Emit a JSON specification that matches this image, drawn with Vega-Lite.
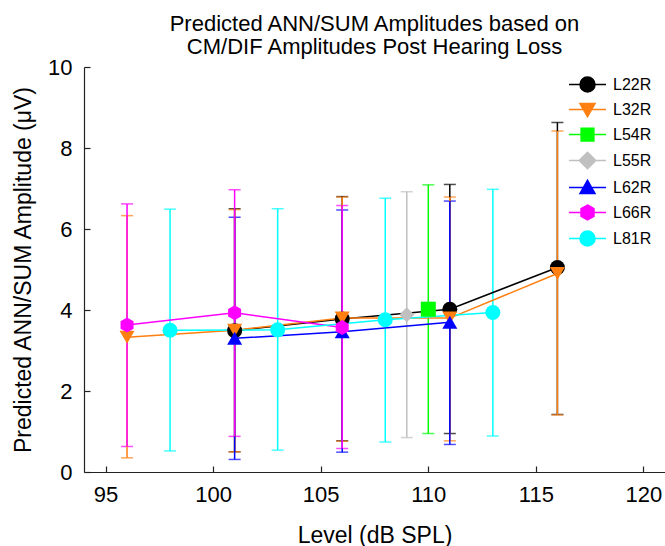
{
  "$schema": "https://vega.github.io/schema/vega-lite/v6.json",
  "width": 581,
  "height": 405,
  "autosize": "none",
  "padding": {"left": 84, "top": 67, "right": 0, "bottom": 74},
  "title": {
    "text": ["Predicted ANN/SUM Amplitudes based on", "CM/DIF Amplitudes Post Hearing Loss"],
    "font": "Liberation Sans",
    "fontSize": 22,
    "fontWeight": "normal",
    "color": "#000000",
    "lineHeight": 23.5,
    "offset": -3,
    "anchor": "middle"
  },
  "config": {
    "view": {"stroke": null},
    "font": "Liberation Sans",
    "axis": {
      "domainColor": "#222222",
      "domainWidth": 1.2,
      "tickColor": "#222222",
      "tickWidth": 1.2,
      "tickSize": -6,
      "grid": false,
      "labelFont": "Liberation Sans",
      "labelFontSize": 22,
      "labelColor": "#000000",
      "titleFont": "Liberation Sans",
      "titleFontSize": 23,
      "titleFontWeight": "normal",
      "titleColor": "#000000"
    },
    "legend": {
      "labelFont": "Liberation Sans",
      "labelFontSize": 16,
      "labelColor": "#000000",
      "symbolStrokeWidth": 1.5
    }
  },
  "data": {
    "values": [
      {"series": "L22R", "level": 101, "amp": 3.49, "lo": 0.50, "hi": 6.50},
      {"series": "L22R", "level": 106, "amp": 3.78, "lo": 0.77, "hi": 6.80},
      {"series": "L22R", "level": 111, "amp": 4.02, "lo": 0.95, "hi": 7.10},
      {"series": "L22R", "level": 116, "amp": 5.05, "lo": 1.42, "hi": 8.63},
      {"series": "L32R", "level": 96, "amp": 3.33, "lo": 0.35, "hi": 6.33},
      {"series": "L32R", "level": 101, "amp": 3.50, "lo": 0.50, "hi": 6.48},
      {"series": "L32R", "level": 106, "amp": 3.80, "lo": 0.76, "hi": 6.79},
      {"series": "L32R", "level": 111, "amp": 3.80, "lo": 0.77, "hi": 6.79},
      {"series": "L32R", "level": 116, "amp": 4.90, "lo": 1.41, "hi": 8.42},
      {"series": "L54R", "level": 110, "amp": 4.02, "lo": 0.95, "hi": 7.09},
      {"series": "L55R", "level": 109, "amp": 3.88, "lo": 0.85, "hi": 6.92},
      {"series": "L62R", "level": 101, "amp": 3.30, "lo": 0.31, "hi": 6.29},
      {"series": "L62R", "level": 106, "amp": 3.46, "lo": 0.49, "hi": 6.47},
      {"series": "L62R", "level": 111, "amp": 3.70, "lo": 0.68, "hi": 6.69},
      {"series": "L66R", "level": 96, "amp": 3.63, "lo": 0.63, "hi": 6.62},
      {"series": "L66R", "level": 101, "amp": 3.93, "lo": 0.88, "hi": 6.97},
      {"series": "L66R", "level": 106, "amp": 3.57, "lo": 0.58, "hi": 6.58},
      {"series": "L81R", "level": 98, "amp": 3.50, "lo": 0.52, "hi": 6.49},
      {"series": "L81R", "level": 103, "amp": 3.51, "lo": 0.54, "hi": 6.50},
      {"series": "L81R", "level": 108, "amp": 3.76, "lo": 0.74, "hi": 6.76},
      {"series": "L81R", "level": 113, "amp": 3.94, "lo": 0.89, "hi": 6.98}
    ]
  },
  "encoding": {
    "x": {
      "field": "level",
      "type": "quantitative",
      "scale": {"domain": [94, 121], "nice": false, "zero": false},
      "axis": {"title": "Level (dB SPL)", "values": [95, 100, 105, 110, 115, 120], "labelPadding": 18, "titlePadding": 19}
    }
  },
  "layer": [
    {
      "mark": {"type": "errorbar", "ticks": {"size": 12}, "thickness": 1.5},
      "encoding": {
        "y": {
          "field": "lo",
          "type": "quantitative",
          "scale": {"domain": [0, 10], "nice": false},
          "axis": {"title": "Predicted ANN/SUM Amplitude (μV)", "values": [0, 2, 4, 6, 8, 10], "labelPadding": 18, "titlePadding": 12}
        },
        "y2": {"field": "hi"},
        "color": {
          "field": "series",
          "type": "nominal",
          "scale": {
            "domain": ["L22R", "L32R", "L54R", "L55R", "L62R", "L66R", "L81R"],
            "range": ["#000000", "#ff7f10", "#00ff00", "#c0c0c0", "#0000ff", "#ff00ff", "#00ffff"]
          },
          "legend": null
        }
      }
    },
    {
      "mark": {"type": "line", "strokeWidth": 1.5},
      "encoding": {
        "y": {"field": "amp", "type": "quantitative"},
        "color": {"field": "series", "type": "nominal", "legend": null}
      }
    },
    {
      "mark": {"type": "point", "filled": true, "size": 225, "opacity": 1},
      "encoding": {
        "y": {"field": "amp", "type": "quantitative"},
        "color": {"field": "series", "type": "nominal", "legend": null},
        "shape": {
          "field": "series",
          "type": "nominal",
          "scale": {
            "domain": ["L22R", "L32R", "L54R", "L55R", "L62R", "L66R", "L81R"],
            "range": ["circle", "triangle-down", "square", "diamond", "triangle-up", "M0,-1L0.866,-0.5L0.866,0.5L0,1L-0.866,0.5L-0.866,-0.5Z", "circle"]
          },
          "legend": null
        }
      }
    },
    {
      "transform": [{"filter": "datum.level < 0"}],
      "mark": {"type": "point", "filled": true, "size": 225, "opacity": 1, "strokeWidth": 1.5},
      "encoding": {
        "y": {"field": "amp", "type": "quantitative"},
        "fill": {
          "field": "series",
          "type": "nominal",
          "scale": {
            "domain": ["L22R", "L32R", "L54R", "L55R", "L62R", "L66R", "L81R"],
            "range": ["#000000", "#ff7f10", "#00ff00", "#c0c0c0", "#0000ff", "#ff00ff", "#00ffff"]
          },
          "legend": {"title": null, "orient": "none", "legendX": 495, "legendY": 9, "symbolSize": 225, "rowPadding": 5, "labelOffset": 17, "symbolOpacity": 1}
        },
        "stroke": {
          "field": "series",
          "type": "nominal",
          "scale": {
            "domain": ["L22R", "L32R", "L54R", "L55R", "L62R", "L66R", "L81R"],
            "range": ["#000000", "#ff7f10", "#00ff00", "#c0c0c0", "#0000ff", "#ff00ff", "#00ffff"]
          },
          "legend": {"title": null, "orient": "none", "legendX": 495, "legendY": 9, "symbolSize": 225, "rowPadding": 5, "labelOffset": 17, "symbolOpacity": 1}
        },
        "shape": {
          "field": "series",
          "type": "nominal",
          "scale": {
            "domain": ["L22R", "L32R", "L54R", "L55R", "L62R", "L66R", "L81R"],
            "range": [
              "M-2.47,0H2.47M1,0A1,1 0 1,0 -1,0A1,1 0 1,0 1,0Z",
              "M-2.47,0H2.47M-1,-0.8L1,-0.8L0,0.95Z",
              "M-2.47,0H2.47M-0.85,-0.85H0.85V0.85H-0.85Z",
              "M-2.47,0H2.47M0,-1.1L1.1,0L0,1.1L-1.1,0Z",
              "M-2.47,0H2.47M-1,0.8L1,0.8L0,-0.95Z",
              "M-2.47,0H2.47M0,-1L0.866,-0.5L0.866,0.5L0,1L-0.866,0.5L-0.866,-0.5Z",
              "M-2.47,0H2.47M1,0A1,1 0 1,0 -1,0A1,1 0 1,0 1,0Z"
            ]
          },
          "legend": {"title": null, "orient": "none", "legendX": 495, "legendY": 9, "symbolSize": 225, "rowPadding": 5, "labelOffset": 17, "symbolOpacity": 1}
        }
      }
    },
    {
      "data": {"values": [{"ref": 1.8}]},
      "mark": {"type": "rule", "color": "#222222", "strokeWidth": 1.2},
      "encoding": {
        "y": {"field": "ref", "type": "quantitative"}
      }
    }
  ],
  "resolve": {
    "scale": {"y": "shared", "shape": "independent", "fill": "independent", "stroke": "independent"},
    "legend": {"shape": "independent", "fill": "independent", "stroke": "independent"}
  }
}
